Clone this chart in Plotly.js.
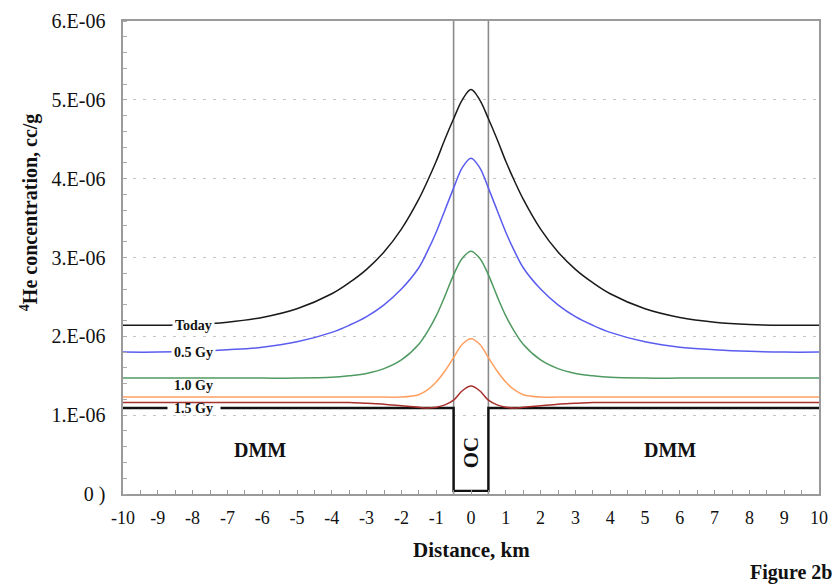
<!DOCTYPE html>
<html>
<head>
<meta charset="utf-8">
<script src="https://cdn.plot.ly/plotly-3.0.1.min.js"></script>
<style>html,body{margin:0;padding:0;background:#fff}#chart{width:839px;height:587px}</style>
</head>
<body>
<div id="chart"></div>
<script>
// Distance, km
const distance = [-10,-9,-8,-7,-6,-5,-4,-3.5,-3,-2.5,-2,-1.5,-1.25,-1,-0.75,-0.5,-0.25,0,0.25,0.5,0.75,1,1.25,1.5,2,2.5,3,3.5,4,5,6,7,8,9,10];
// 4He concentration, units of 1e-6 cc/g
const today = [2.14,2.14,2.15,2.18,2.24,2.35,2.54,2.68,2.85,3.07,3.36,3.74,3.97,4.22,4.50,4.76,5.00,5.13,5.00,4.76,4.50,4.22,3.97,3.74,3.36,3.07,2.85,2.68,2.54,2.35,2.24,2.18,2.15,2.14,2.14];
const gy05  = [1.80,1.80,1.81,1.83,1.86,1.93,2.05,2.14,2.25,2.40,2.60,2.87,3.08,3.32,3.60,3.88,4.14,4.26,4.14,3.88,3.60,3.32,3.08,2.87,2.60,2.40,2.25,2.14,2.05,1.93,1.86,1.83,1.81,1.80,1.80];
const gy10  = [1.47,1.47,1.47,1.47,1.47,1.47,1.48,1.50,1.53,1.59,1.70,1.90,2.06,2.26,2.51,2.78,2.99,3.08,2.99,2.78,2.51,2.26,2.06,1.90,1.70,1.59,1.53,1.50,1.48,1.47,1.47,1.47,1.47,1.47,1.47];
const gy10b = [1.23,1.23,1.23,1.23,1.23,1.23,1.23,1.23,1.23,1.23,1.23,1.26,1.32,1.42,1.56,1.73,1.90,1.97,1.90,1.73,1.56,1.42,1.32,1.26,1.23,1.23,1.23,1.23,1.23,1.23,1.23,1.23,1.23,1.23,1.23];
const gy15  = [1.16,1.16,1.16,1.16,1.16,1.16,1.16,1.16,1.15,1.14,1.12,1.10,1.09,1.10,1.13,1.19,1.31,1.37,1.31,1.19,1.13,1.10,1.09,1.10,1.12,1.14,1.15,1.16,1.16,1.16,1.16,1.16,1.16,1.16,1.16];
// initial step profile (DMM / OC / DMM)
const stepX = [-10,-0.5,-0.5,0.5,0.5,10];
const stepY = [1.09,1.09,0.04,0.04,1.09,1.09];
// OC boundaries
const ocEdges = [-0.5, 0.5];
const yTicks = [0,1,2,3,4,5,6];
const yTickText = ["0 )","1.E-06","2.E-06","3.E-06","4.E-06","5.E-06","6.E-06"];
const xTicks = [-10,-9,-8,-7,-6,-5,-4,-3,-2,-1,0,1,2,3,4,5,6,7,8,9,10];
const labels = ["Today","0.5 Gy","1.0 Gy","1.5 Gy"];
const labelY = [2.14,1.80,1.38,1.09];

const E = 1e-6;
const sc = a => a.map(v => v*E);
const serif = "Liberation Serif, Times New Roman, serif";

const traces = [];
ocEdges.forEach(e => traces.push({x:[e,e], y:[0,6*E], mode:'lines', line:{color:'#8a8a8a', width:1.6}, hoverinfo:'skip', showlegend:false}));
traces.push({x:stepX, y:sc(stepY), mode:'lines', line:{color:'#111', width:2.4}, showlegend:false});
const series = [[gy15,'#a8302c'],[gy10b,'#ffa060'],[gy10,'#4f9a60'],[gy05,'#5a5cf0'],[today,'#1a1a1a']];
series.forEach(([d,c]) => traces.push({x:distance, y:sc(d), mode:'lines', line:{color:c, width:1.5, shape:'spline', smoothing:1}, showlegend:false}));

const bold = (s) => ({family:serif, size:s, color:'#111', weight:'bold'});
const ann = [];
[0,1].forEach(i => ann.push({x:-7.97, y:labelY[i]*E, xref:'x', yref:'y', text:labels[i], showarrow:false,
  font:bold(14), bgcolor:'#fff', borderpad:2}));
ann.push({x:-7.97, y:labelY[2]*E, xref:'x', yref:'y', text:labels[2], showarrow:false, font:bold(14)});
ann.push({x:-7.97, y:labelY[3]*E, xref:'x', yref:'y', text:' ', showarrow:false, width:52, height:5, bgcolor:'#fff', borderpad:0, font:{size:2}});
ann.push({x:-7.97, y:labelY[3]*E, xref:'x', yref:'y', text:labels[3], showarrow:false, font:bold(14)});
ann.push({x:-6.06, y:0.56*E, xref:'x', yref:'y', text:'DMM', showarrow:false, font:bold(20)});
ann.push({x:5.72, y:0.56*E, xref:'x', yref:'y', text:'DMM', showarrow:false, font:bold(20)});
ann.push({x:0, y:0.53*E, xref:'x', yref:'y', text:'OC', textangle:-90, showarrow:false, font:bold(21)});
ann.push({x:-0.135, y:0.596, xref:'paper', yref:'paper', xanchor:'center', yanchor:'middle', text:'<sup>4</sup>He concentration, cc/g', textangle:-90, showarrow:false, font:bold(20)});
ann.push({x:0, y:-0.118, xref:'x', yref:'paper', xanchor:'center', yanchor:'middle', text:'Distance, km', showarrow:false, font:bold(21)});
ann.push({x:0.96, y:-0.165, xref:'paper', yref:'paper', xanchor:'center', yanchor:'middle', text:'Figure 2b', showarrow:false, font:bold(20)});

const layout = {
  width:839, height:587,
  margin:{l:123, r:20, t:21, b:93},
  paper_bgcolor:'#fff', plot_bgcolor:'#fff',
  showlegend:false,
  xaxis:{range:[-10,10], tickvals:xTicks, ticktext:xTicks.map(String), ticks:'inside', ticklen:4, tickcolor:'#999',
    minor:{dtick:0.5, ticks:'inside', ticklen:4, tickcolor:'#999'},
    showgrid:false, zeroline:false, showline:true, mirror:true, linecolor:'#9a9a9a', linewidth:1.6,
    tickfont:{family:serif, size:18, color:'#111'}, ticklabelstandoff:7},
  yaxis:{range:[0,6*E], tickvals:sc(yTicks), ticktext:yTickText, ticks:'',
    minor:{dtick:0.2*E, ticks:'inside', ticklen:4, tickcolor:'#aaa', showgrid:false},
    showgrid:true, gridcolor:'#c4c4c4', griddash:'3px,7px', gridwidth:1,
    zeroline:false, showline:true, mirror:true, linecolor:'#9a9a9a', linewidth:1.6,
    tickfont:{family:serif, size:20, color:'#111'}, ticklabelstandoff:12},
  annotations:ann
};
Plotly.newPlot('chart', traces, layout, {staticPlot:true, displayModeBar:false});
</script>
</body>
</html>
